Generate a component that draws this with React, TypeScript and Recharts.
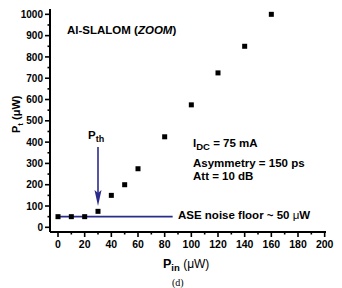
import React from "react";
import {
  ComposedChart,
  XAxis,
  YAxis,
  Scatter,
  ReferenceLine,
  Customized,
} from "recharts";

const pinValues = [0, 10, 20, 30, 40, 50, 60, 80, 100, 120, 140, 160];
const ptValues = [50, 50, 50, 75, 150, 200, 275, 425, 575, 725, 850, 1000];
const xTicks = [0, 10, 20, 30, 40, 50, 60, 70, 80, 90, 100, 110, 120, 130, 140, 150, 160, 170, 180, 190, 200];
const yTicks = [0, 50, 100, 150, 200, 250, 300, 350, 400, 450, 500, 550, 600, 650, 700, 750, 800, 850, 900, 950, 1000];
const noiseFloorLevel = 50;
const noiseFloorStart = 0;
const noiseFloorEnd = 86;
const thresholdPin = 30;
const arrowTop = 377;
const arrowTip = 100;

const points = pinValues.map((x, i) => ({ x, y: ptValues[i] }));
const arrowHead = [{ x: thresholdPin, y: arrowTip }];

const FONT = '"Liberation Sans", Arial, sans-serif';
const BLUE = "#2b2b8c";

const SquareShape = (props: any) => {
  const { cx, cy } = props;
  if (cx == null || cy == null) return null;
  return <rect x={cx - 2.5} y={cy - 2.5} width={5} height={5} fill="#000" />;
};

const ArrowHeadShape = (props: any) => {
  const { cx, cy } = props;
  if (cx == null || cy == null) return null;
  return (
    <polygon
      points={`${cx},${cy} ${cx - 3.5},${cy - 16} ${cx},${cy - 13} ${cx + 3.5},${cy - 16}`}
      fill={BLUE}
    />
  );
};

const YTick = (props: any) => {
  const { x, y, payload } = props;
  const v = payload.value;
  const major = v % 100 === 0;
  return (
    <g>
      <line x1={x - (major ? 5 : 2.5)} x2={x} y1={y} y2={y} stroke="#000" strokeWidth={1.6} />
      {major && (
        <text x={x - 7} y={y + 3.6} textAnchor="end" fontFamily={FONT} fontWeight="bold" fontSize={10} fill="#000">
          {v}
        </text>
      )}
    </g>
  );
};

const XTick = (props: any) => {
  const { x, y, payload } = props;
  const v = payload.value;
  const major = v % 20 === 0;
  return (
    <g>
      <line x1={x} x2={x} y1={y} y2={y + (major ? 5 : 2.5)} stroke="#000" strokeWidth={1.6} />
      {major && (
        <text x={x} y={y + 16} textAnchor="middle" fontFamily={FONT} fontWeight="bold" fontSize={10.5} fill="#000">
          {v}
        </text>
      )}
    </g>
  );
};

const Annotations = () => (
  <g fontFamily={FONT} fill="#000">
    <text x={67} y={34} fontWeight="bold" fontSize={11.5}>
      Al-SLALOM (<tspan fontStyle="italic">ZOOM</tspan>)
    </text>
    <text x={88} y={139} fontWeight="bold" fontSize={11.5}>
      P<tspan fontSize={9} dy={3}>th</tspan>
    </text>
    <text x={193} y={147} fontWeight="bold" fontSize={11.5}>
      I<tspan fontSize={9.5} dy={3}>DC</tspan>
      <tspan dy={-3}> = 75 mA</tspan>
    </text>
    <text x={193} y={167} fontWeight="bold" fontSize={11.5}>
      Asymmetry = 150 ps
    </text>
    <text x={193} y={180} fontWeight="bold" fontSize={11.5}>
      Att = 10 dB
    </text>
    <text x={178} y={219} fontWeight="bold" fontSize={11.5}>
      ASE noise floor ~ 50 <tspan fontWeight="normal">μ</tspan>W
    </text>
    <text x={163} y={268} fontWeight="bold" fontSize={12.5}>
      P<tspan fontSize={9.5} dy={3}>in</tspan>
      <tspan dy={-3} fontWeight="normal" fontSize={12}> (μW)</tspan>
    </text>
    <text x={20} y={133} transform="rotate(-90, 20, 133)" fontWeight="bold" fontSize={11}>
      P<tspan fontSize={8} dy={3}>t</tspan>
      <tspan dy={-3}> (μW)</tspan>
    </text>
    <text x={172} y={286} fontFamily='"Liberation Serif", "Times New Roman", serif' fontSize={10}>
      (d)
    </text>
  </g>
);

export default function App() {
  return (
    <div style={{ position: "absolute", left: 0, top: 0, width: 342, height: 288, background: "#fff" }}>
      <ComposedChart
        width={342}
        height={288}
        data={points}
        margin={{ top: 9, right: 16, left: 0, bottom: 0 }}
      >
        <XAxis
          type="number"
          dataKey="x"
          domain={[-6, 201]}
          ticks={xTicks}
          interval={0}
          height={56}
          tickSize={0}
          tickMargin={0}
          tick={<XTick />}
          axisLine={{ stroke: "#000", strokeWidth: 2 }}
          allowDataOverflow
        />
        <YAxis
          type="number"
          dataKey="y"
          domain={[-22, 1025]}
          ticks={yTicks}
          interval={0}
          width={50}
          tickSize={0}
          tickMargin={0}
          tick={<YTick />}
          axisLine={{ stroke: "#000", strokeWidth: 2 }}
          allowDataOverflow
        />
        <ReferenceLine
          segment={[
            { x: noiseFloorStart, y: noiseFloorLevel },
            { x: noiseFloorEnd, y: noiseFloorLevel },
          ]}
          stroke={BLUE}
          strokeWidth={1.6}
        />
        <ReferenceLine
          segment={[
            { x: thresholdPin, y: arrowTop },
            { x: thresholdPin, y: arrowTip + 60 },
          ]}
          stroke={BLUE}
          strokeWidth={1.6}
        />
        <Scatter data={arrowHead} dataKey="y" shape={<ArrowHeadShape />} isAnimationActive={false} />
        <Scatter data={points} dataKey="y" shape={<SquareShape />} isAnimationActive={false} />
        <Customized component={Annotations} />
      </ComposedChart>
    </div>
  );
}
